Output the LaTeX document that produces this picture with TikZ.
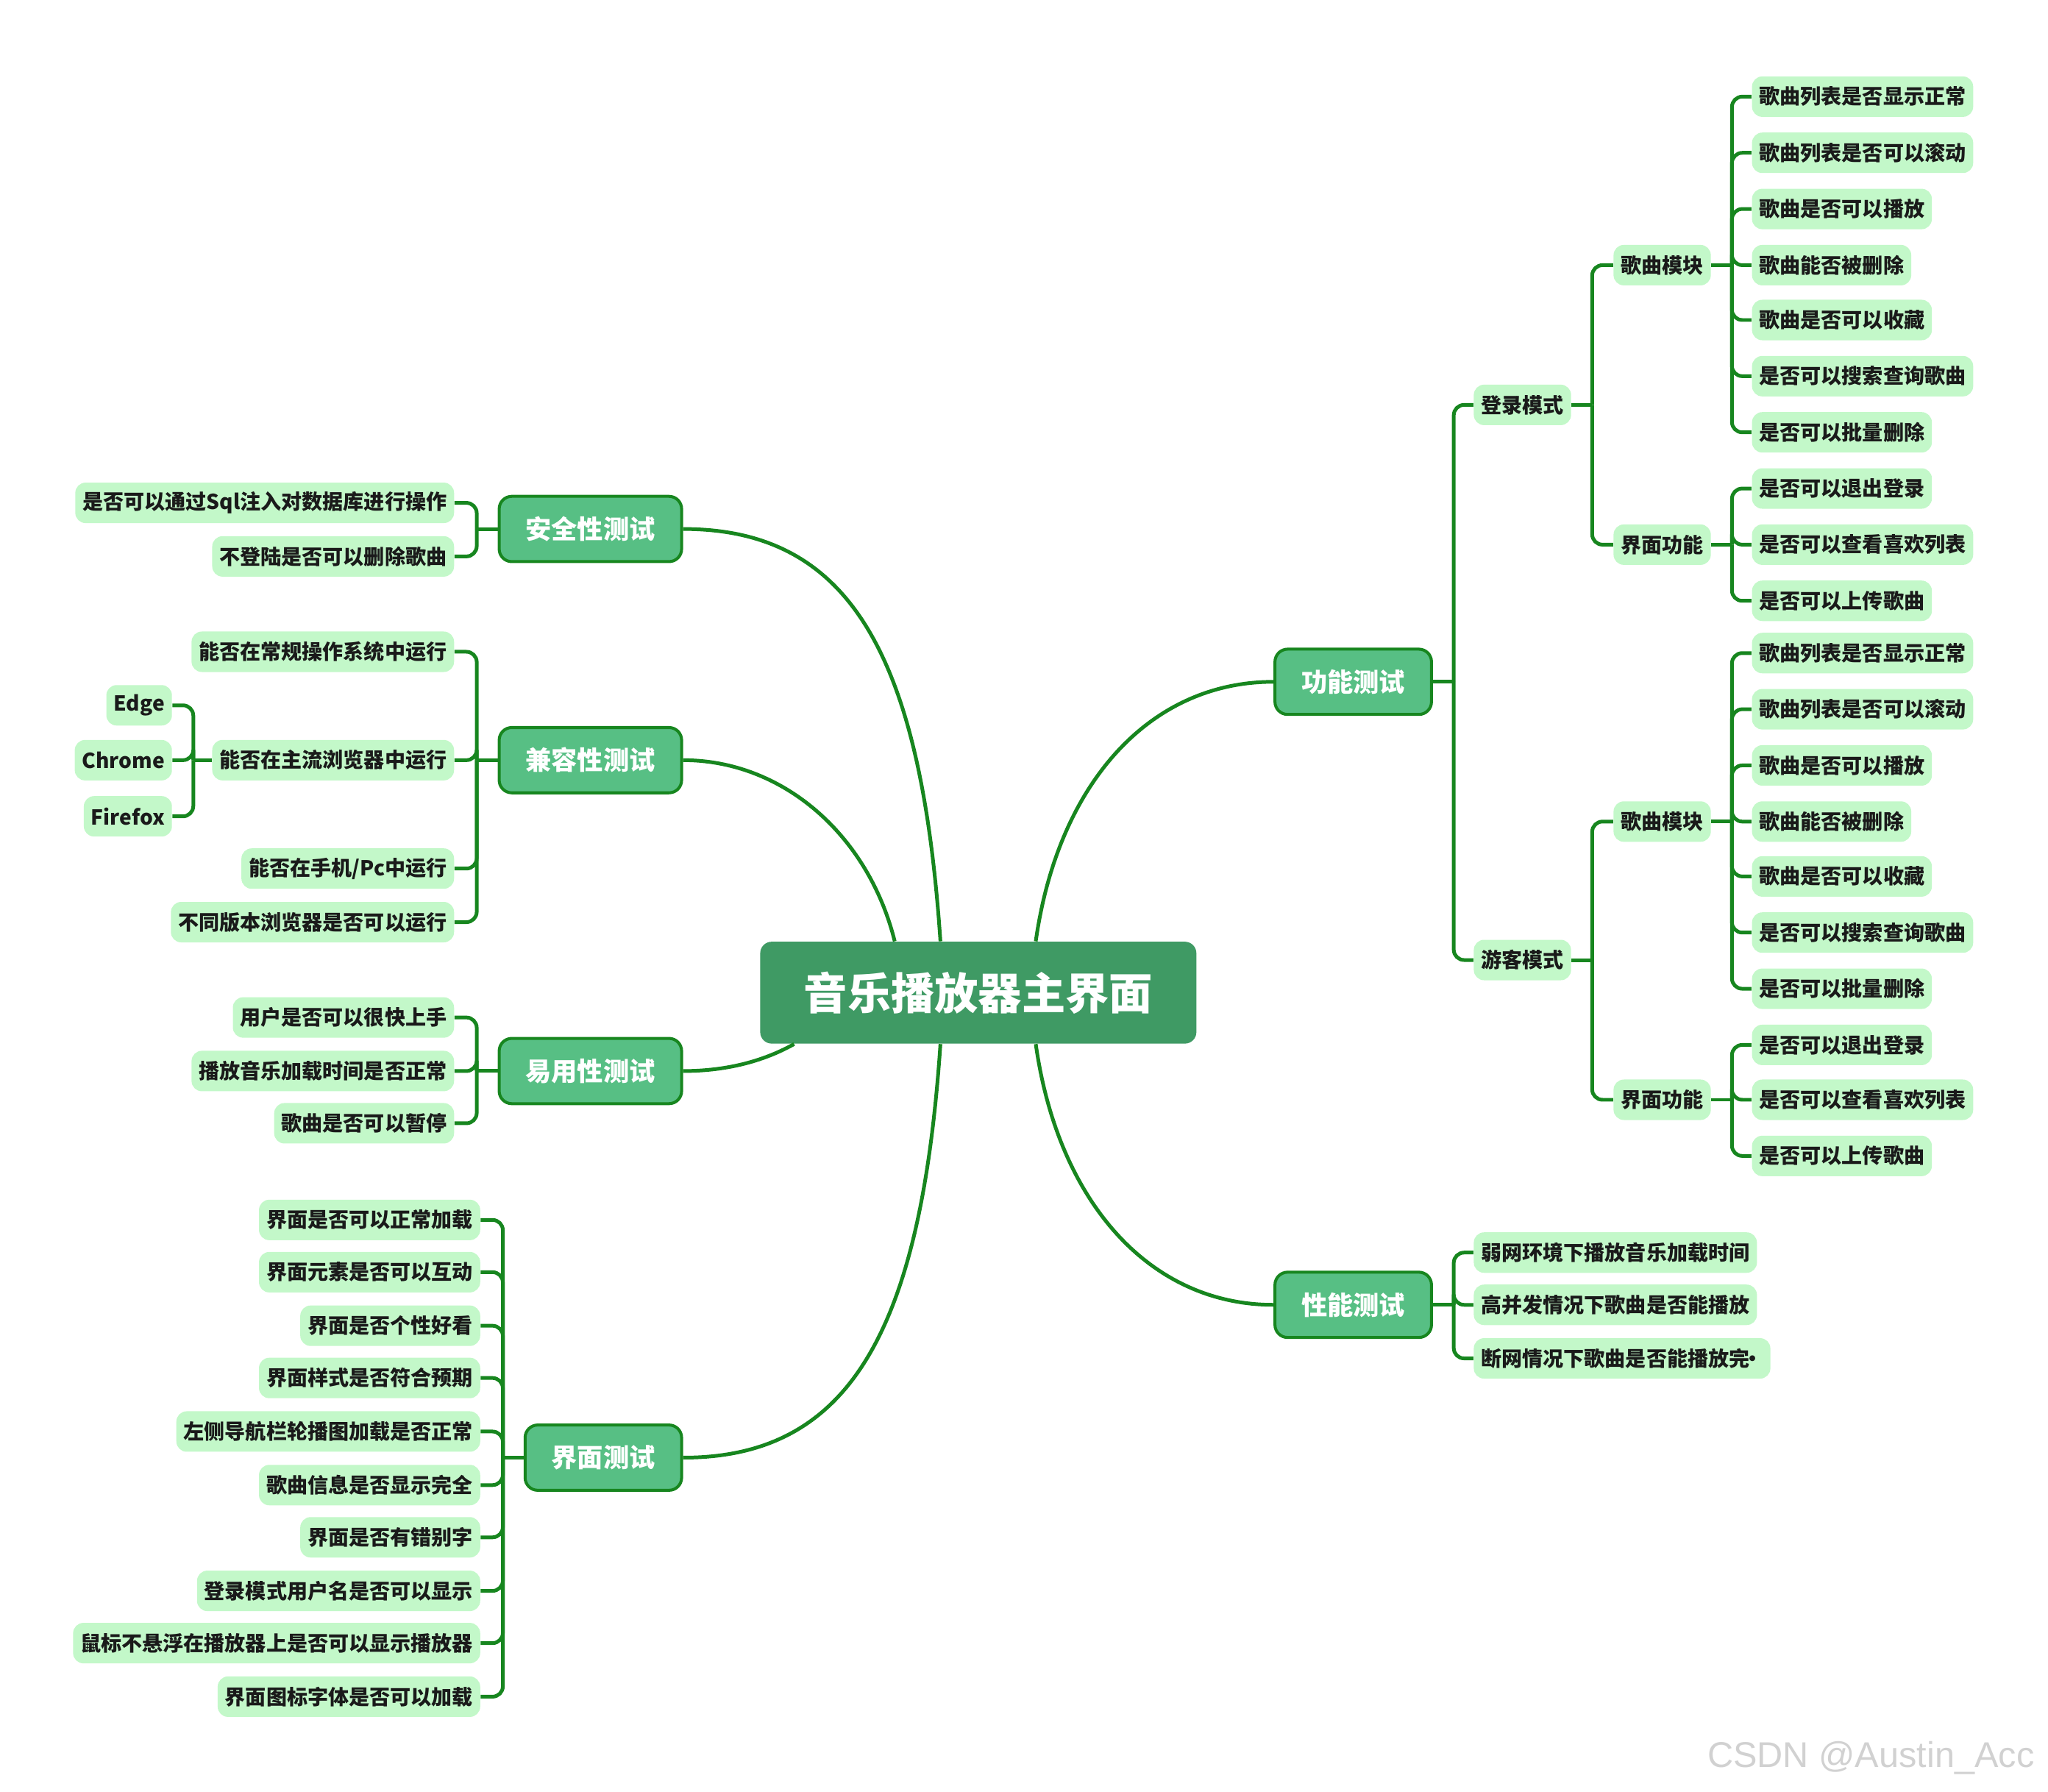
\documentclass[tikz,border=0pt]{standalone}
\usepackage{fontspec}
\setmainfont{Noto Sans CJK SC}
\newfontfamily\markfont{Liberation Sans}
\usetikzlibrary{positioning,calc}
\definecolor{RootFill}{HTML}{3F9A64}
\definecolor{BranchFill}{HTML}{57BF84}
\definecolor{Stem}{HTML}{17861F}
\definecolor{LeafFill}{HTML}{C3F8C9}
\definecolor{Ink}{HTML}{1A1A1A}
\tikzset{
  root/.style={rounded corners=5pt,fill=RootFill,text=white,font=\bfseries\fontsize{19}{22}\selectfont,minimum width=6.68cm,minimum height=1.56cm,inner sep=0pt},
  branch/.style={rounded corners=5.5pt,fill=BranchFill,draw=Stem,line width=1.3pt,text=white,font=\bfseries\fontsize{11.3}{13}\selectfont,minimum height=1cm,inner xsep=11.5pt,inner ysep=0pt},
  leaf/.style={rounded corners=4.5pt,fill=LeafFill,text=Ink,font=\bfseries\fontsize{9}{11}\selectfont,minimum height=0.62cm,inner xsep=3.2pt,inner ysep=0pt},
  link/.style={Stem,line width=1.6pt},
  stem/.style={Stem,line width=1.6pt,rounded corners=4.5pt},
}
\begin{document}
\begin{tikzpicture}[x=0.02cm,y=-0.02cm]
\useasboundingbox (0,0) rectangle (1568,1372);
\node[root] (yy) at (749,760) {音乐播放器主界面};
\node[branch,anchor=east] (aq) at (523,405) {安全性测试};
\node[branch,anchor=east] (jr) at (523,582) {兼容性测试};
\node[branch,anchor=east] (yh) at (523,820) {易用性测试};
\node[branch,anchor=east] (jm) at (523,1116) {界面测试};
\node[branch,anchor=west] (gn) at (975,522) {功能测试};
\node[branch,anchor=west] (xn) at (975,999) {性能测试};
\draw[link] ($(yy.north)+(-29,0)$) .. controls (705,500) and (650,405) .. (aq.east);
\draw[link] ($(yy.north)+(-64,0)$) .. controls (665,640) and (600,582) .. (jr.east);
\draw[link] ($(yy.south)+(-141,0)$) .. controls (580,815) and (550,820) .. (yh.east);
\draw[link] ($(yy.south)+(-29,0)$) .. controls (705,1020) and (650,1116) .. (jm.east);
\draw[link] ($(yy.north)+(44,0)$) .. controls (810,600) and (880,522) .. (gn.west);
\draw[link] ($(yy.south)+(44,0)$) .. controls (810,920) and (880,999) .. (xn.west);
% 安全性测试
\coordinate (aqj) at (365,405);
\draw[link] (aq.west) -- (aqj);
\node[leaf,anchor=east] (aq1) at (348,385) {是否可以通过Sql注入对数据库进行操作};
\node[leaf,anchor=east] (aq2) at (348,426) {不登陆是否可以删除歌曲};
\draw[stem] (aqj) |- (aq1.east);
\draw[stem] (aqj) |- (aq2.east);
% 兼容性测试
\coordinate (jrj) at (365,582);
\draw[link] (jr.west) -- (jrj);
\node[leaf,anchor=east] (jr1) at (348,499) {能否在常规操作系统中运行};
\node[leaf,anchor=east] (jr2) at (348,582) {能否在主流浏览器中运行};
\node[leaf,anchor=east] (jr3) at (348,665) {能否在手机/Pc中运行};
\node[leaf,anchor=east] (jr4) at (348,706) {不同版本浏览器是否可以运行};
\draw[stem] (jrj) |- (jr1.east);
\draw[stem] (jrj) |- (jr2.east);
\draw[stem] (jrj) |- (jr3.east);
\draw[stem] (jrj) |- (jr4.east);
\coordinate (llj) at (148,582);
\draw[link] (jr2.west) -- (llj);
\node[leaf,anchor=east] (edge) at (132,540) {Edge};
\node[leaf,anchor=east] (chrome) at (132,582) {Chrome};
\node[leaf,anchor=east] (firefox) at (132,625) {Firefox};
\draw[stem] (llj) |- (edge.east);
\draw[stem] (llj) |- (chrome.east);
\draw[stem] (llj) |- (firefox.east);
% 易用性测试
\coordinate (yhj) at (365,820);
\draw[link] (yh.west) -- (yhj);
\node[leaf,anchor=east] (yh1) at (348,779) {用户是否可以很快上手};
\node[leaf,anchor=east] (yh2) at (348,820) {播放音乐加载时间是否正常};
\node[leaf,anchor=east] (yh3) at (348,860) {歌曲是否可以暂停};
\draw[stem] (yhj) |- (yh1.east);
\draw[stem] (yhj) |- (yh2.east);
\draw[stem] (yhj) |- (yh3.east);
% 界面测试
\coordinate (jmj) at (385,1116);
\draw[link] (jm.west) -- (jmj);
\node[leaf,anchor=east] (jm1) at (368,934) {界面是否可以正常加载};
\node[leaf,anchor=east] (jm2) at (368,974) {界面元素是否可以互动};
\node[leaf,anchor=east] (jm3) at (368,1015) {界面是否个性好看};
\node[leaf,anchor=east] (jm4) at (368,1055) {界面样式是否符合预期};
\node[leaf,anchor=east] (jm5) at (368,1096) {左侧导航栏轮播图加载是否正常};
\node[leaf,anchor=east] (jm6) at (368,1137) {歌曲信息是否显示完全};
\node[leaf,anchor=east] (jm7) at (368,1177) {界面是否有错别字};
\node[leaf,anchor=east] (jm8) at (368,1218) {登录模式用户名是否可以显示};
\node[leaf,anchor=east] (jm9) at (368,1258) {鼠标不悬浮在播放器上是否可以显示播放器};
\node[leaf,anchor=east] (jm10) at (368,1299) {界面图标字体是否可以加载};
\draw[stem] (jmj) |- (jm1.east);
\draw[stem] (jmj) |- (jm2.east);
\draw[stem] (jmj) |- (jm3.east);
\draw[stem] (jmj) |- (jm4.east);
\draw[stem] (jmj) |- (jm5.east);
\draw[stem] (jmj) |- (jm6.east);
\draw[stem] (jmj) |- (jm7.east);
\draw[stem] (jmj) |- (jm8.east);
\draw[stem] (jmj) |- (jm9.east);
\draw[stem] (jmj) |- (jm10.east);
% 功能测试
\coordinate (gnj) at (1113,522);
\draw[link] (gn.east) -- (gnj);
\node[leaf,anchor=west] (dl) at (1128,310) {登录模式};
\node[leaf,anchor=west] (yk) at (1128,735) {游客模式};
\draw[stem] (gnj) |- (dl.west);
\draw[stem] (gnj) |- (yk.west);
\coordinate (dlj) at (1219,310);
\draw[link] (dl.east) -- (dlj);
\node[leaf,anchor=west] (dlg) at (1235,203) {歌曲模块};
\node[leaf,anchor=west] (dlf) at (1235,417) {界面功能};
\draw[stem] (dlj) |- (dlg.west);
\draw[stem] (dlj) |- (dlf.west);
\coordinate (dlgj) at (1326,203);
\draw[link] (dlg.east) -- (dlgj);
\node[leaf,anchor=west] (dlg1) at (1341,74) {歌曲列表是否显示正常};
\node[leaf,anchor=west] (dlg2) at (1341,117) {歌曲列表是否可以滚动};
\node[leaf,anchor=west] (dlg3) at (1341,160) {歌曲是否可以播放};
\node[leaf,anchor=west] (dlg4) at (1341,203) {歌曲能否被删除};
\node[leaf,anchor=west] (dlg5) at (1341,245) {歌曲是否可以收藏};
\node[leaf,anchor=west] (dlg6) at (1341,288) {是否可以搜索查询歌曲};
\node[leaf,anchor=west] (dlg7) at (1341,331) {是否可以批量删除};
\draw[stem] (dlgj) |- (dlg1.west);
\draw[stem] (dlgj) |- (dlg2.west);
\draw[stem] (dlgj) |- (dlg3.west);
\draw[stem] (dlgj) |- (dlg4.west);
\draw[stem] (dlgj) |- (dlg5.west);
\draw[stem] (dlgj) |- (dlg6.west);
\draw[stem] (dlgj) |- (dlg7.west);
\coordinate (dlfj) at (1326,417);
\draw[link] (dlf.east) -- (dlfj);
\node[leaf,anchor=west] (dlf1) at (1341,374) {是否可以退出登录};
\node[leaf,anchor=west] (dlf2) at (1341,417) {是否可以查看喜欢列表};
\node[leaf,anchor=west] (dlf3) at (1341,460) {是否可以上传歌曲};
\draw[stem] (dlfj) |- (dlf1.west);
\draw[stem] (dlfj) |- (dlf2.west);
\draw[stem] (dlfj) |- (dlf3.west);
\coordinate (ykj) at (1219,735);
\draw[link] (yk.east) -- (ykj);
\node[leaf,anchor=west] (ykg) at (1235,629) {歌曲模块};
\node[leaf,anchor=west] (ykf) at (1235,842) {界面功能};
\draw[stem] (ykj) |- (ykg.west);
\draw[stem] (ykj) |- (ykf.west);
\coordinate (ykgj) at (1326,629);
\draw[link] (ykg.east) -- (ykgj);
\node[leaf,anchor=west] (ykg1) at (1341,500) {歌曲列表是否显示正常};
\node[leaf,anchor=west] (ykg2) at (1341,543) {歌曲列表是否可以滚动};
\node[leaf,anchor=west] (ykg3) at (1341,586) {歌曲是否可以播放};
\node[leaf,anchor=west] (ykg4) at (1341,629) {歌曲能否被删除};
\node[leaf,anchor=west] (ykg5) at (1341,671) {歌曲是否可以收藏};
\node[leaf,anchor=west] (ykg6) at (1341,714) {是否可以搜索查询歌曲};
\node[leaf,anchor=west] (ykg7) at (1341,757) {是否可以批量删除};
\draw[stem] (ykgj) |- (ykg1.west);
\draw[stem] (ykgj) |- (ykg2.west);
\draw[stem] (ykgj) |- (ykg3.west);
\draw[stem] (ykgj) |- (ykg4.west);
\draw[stem] (ykgj) |- (ykg5.west);
\draw[stem] (ykgj) |- (ykg6.west);
\draw[stem] (ykgj) |- (ykg7.west);
\coordinate (ykfj) at (1326,842);
\draw[link] (ykf.east) -- (ykfj);
\node[leaf,anchor=west] (ykf1) at (1341,800) {是否可以退出登录};
\node[leaf,anchor=west] (ykf2) at (1341,842) {是否可以查看喜欢列表};
\node[leaf,anchor=west] (ykf3) at (1341,885) {是否可以上传歌曲};
\draw[stem] (ykfj) |- (ykf1.west);
\draw[stem] (ykfj) |- (ykf2.west);
\draw[stem] (ykfj) |- (ykf3.west);
% 性能测试
\coordinate (xnj) at (1113,999);
\draw[link] (xn.east) -- (xnj);
\node[leaf,anchor=west] (xn1) at (1128,959) {弱网环境下播放音乐加载时间};
\node[leaf,anchor=west] (xn2) at (1128,999) {高并发情况下歌曲是否能播放};
\node[leaf,anchor=west] (xn3) at (1128,1040) {断网情况下歌曲是否能播放完\kern-0.35em•};
\draw[stem] (xnj) |- (xn1.west);
\draw[stem] (xnj) |- (xn2.west);
\draw[stem] (xnj) |- (xn3.west);
\node[anchor=west,font=\markfont\fontsize{15.6}{18}\selectfont,text=black!18,inner xsep=0pt] (wm) at (1307,1346) {CSDN @Austin\_Acc};
\end{tikzpicture}
\end{document}
